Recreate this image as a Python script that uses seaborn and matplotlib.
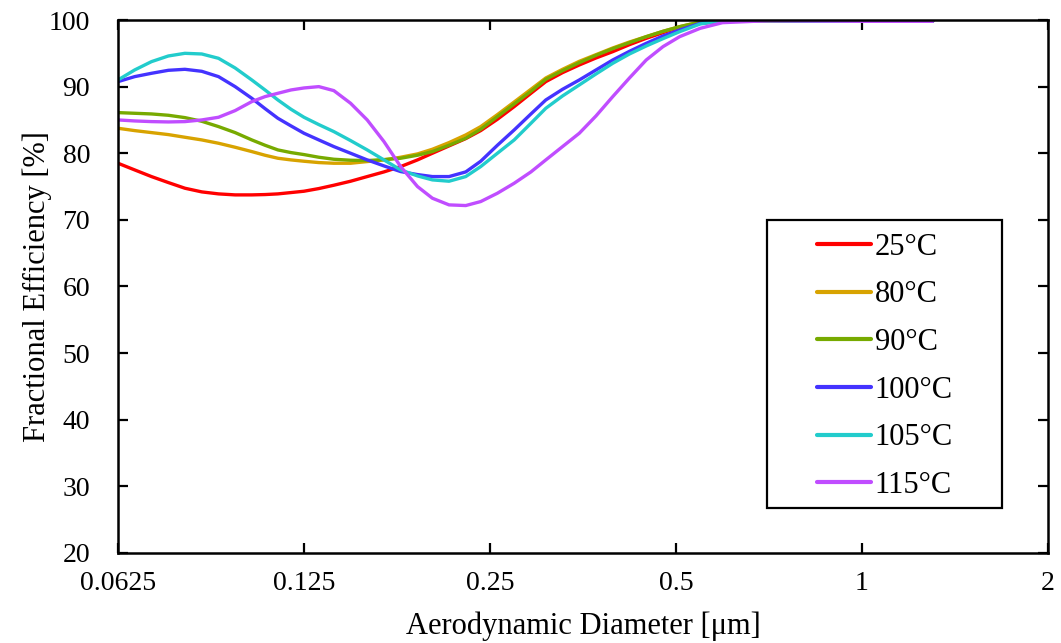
import numpy as np
import pandas as pd
import matplotlib
matplotlib.use("Agg")
import matplotlib.pyplot as plt
import seaborn as sns
from matplotlib.patches import Rectangle

# ---- data ----
diameter = [0.0625, 0.0665, 0.0708, 0.0754, 0.0802, 0.0854, 0.0909, 0.0967,
            0.1029, 0.1081, 0.1134, 0.1191, 0.125, 0.1321, 0.1397, 0.1487,
            0.1582, 0.1684, 0.1792, 0.1908, 0.2017, 0.2146, 0.2284, 0.2415,
            0.2570, 0.2736, 0.2912, 0.3078, 0.3276, 0.3487, 0.3711, 0.3950,
            0.4204, 0.4475, 0.4763, 0.5069, 0.5471, 0.5946, 0.7071, 1.0, 1.301]

eff_25 = [78.5, 77.5, 76.5, 75.6, 74.75, 74.2, 73.9, 73.75,
          73.75, 73.8, 73.9, 74.1, 74.3, 74.7, 75.2, 75.8,
          76.5, 77.2, 78.0, 79.0, 80.0, 81.1, 82.2, 83.4,
          85.1, 87.0, 89.0, 90.75, 92.1, 93.25, 94.3, 95.25,
          96.3, 97.25, 98.1, 98.9, 99.5, 99.8, 99.9, 99.8, 99.8]
eff_80 = [83.75, 83.4, 83.1, 82.8, 82.4, 82.0, 81.5, 80.9,
          80.25, 79.7, 79.25, 79.0, 78.8, 78.6, 78.5, 78.5,
          78.75, 79.0, 79.4, 79.9, 80.6, 81.6, 82.75, 84.0,
          85.8, 87.7, 89.6, 91.3, 92.6, 93.8, 94.8, 95.8,
          96.7, 97.5, 98.3, 99.0, 99.7, 99.9, 99.9, 99.8, 99.8]
eff_90 = [86.1, 86.0, 85.9, 85.7, 85.35, 84.8, 84.0, 83.1,
          82.0, 81.2, 80.5, 80.1, 79.8, 79.4, 79.1, 78.95,
          78.9, 79.05, 79.25, 79.7, 80.25, 81.2, 82.25, 83.6,
          85.5, 87.4, 89.3, 91.1, 92.4, 93.6, 94.7, 95.7,
          96.6, 97.5, 98.3, 99.0, 99.7, 99.9, 99.9, 99.8, 99.8]
eff_100 = [90.75, 91.5, 92.0, 92.45, 92.6, 92.3, 91.5, 90.0,
           88.25, 86.7, 85.25, 84.1, 83.0, 82.0, 81.0, 80.0,
           79.0, 78.1, 77.25, 76.8, 76.5, 76.5, 77.2, 78.8,
           81.2, 83.5, 85.9, 88.0, 89.6, 91.0, 92.5, 94.0,
           95.3, 96.5, 97.6, 98.5, 99.5, 99.9, 99.9, 99.8, 99.8]
eff_105 = [91.0, 92.5, 93.75, 94.6, 95.0, 94.9, 94.25, 92.8,
           91.0, 89.5, 88.0, 86.6, 85.4, 84.3, 83.25, 81.9,
           80.5, 79.0, 77.5, 76.6, 76.0, 75.8, 76.5, 78.0,
           80.0, 82.0, 84.5, 86.75, 88.6, 90.25, 91.9, 93.5,
           94.9, 96.1, 97.2, 98.25, 99.4, 99.9, 99.9, 99.8, 99.8]
eff_115 = [85.0, 84.85, 84.75, 84.7, 84.75, 85.0, 85.4, 86.4,
           87.75, 88.5, 89.0, 89.5, 89.8, 90.0, 89.4, 87.5,
           85.0, 81.75, 78.0, 75.0, 73.25, 72.25, 72.15, 72.75,
           74.0, 75.5, 77.2, 79.0, 81.0, 83.0, 85.6, 88.5,
           91.3, 94.0, 96.0, 97.5, 98.75, 99.6, 99.9, 99.8, 99.8]

series_labels = ["25°C", "80°C", "90°C", "100°C", "105°C", "115°C"]
series_values = [eff_25, eff_80, eff_90, eff_100, eff_105, eff_115]
series_colors = ["#FF0000", "#D8A300", "#77AA00", "#4433FF", "#22CCCC", "#C04DFF"]

x_ticks = [0.0625, 0.125, 0.25, 0.5, 1, 2]
x_tick_labels = ["0.0625", "0.125", "0.25", "0.5", "1", "2"]
y_ticks = [20, 30, 40, 50, 60, 70, 80, 90, 100]

df = pd.concat(
    [pd.DataFrame({"d": diameter, "eff": v, "T": lab})
     for lab, v in zip(series_labels, series_values)],
    ignore_index=True,
)

sns.set_theme(style="ticks")
plt.rcParams["font.family"] = ["Liberation Serif", "DejaVu Serif"]

fig = plt.figure(figsize=(10.61, 6.43), dpi=100)
ax = fig.add_axes([118 / 1061, 1 - 553 / 643, 930 / 1061, 533 / 643])

sns.lineplot(data=df, x="d", y="eff", hue="T", hue_order=series_labels,
             palette=dict(zip(series_labels, series_colors)),
             estimator=None, sort=True, linewidth=2.4, ax=ax, legend=True)

ax.set_xscale("log", base=2)
ax.set_xlim(0.0625, 2)
ax.set_ylim(20, 100)
ax.set_xticks(x_ticks)
ax.set_xticklabels(x_tick_labels)
ax.set_yticks(y_ticks)
ax.xaxis.set_minor_locator(matplotlib.ticker.NullLocator())

for s in ax.spines.values():
    s.set_color("black")
    s.set_linewidth(1.8)

ax.tick_params(axis="both", which="major", direction="in", length=7, width=1.6,
               top=True, right=True, labelsize=20, colors="black")
ax.tick_params(axis="x", pad=13)
ax.tick_params(axis="y", pad=20)

ax.set_xlabel("Aerodynamic Diameter [μm]", fontsize=22, color="black", labelpad=11)
ax.set_ylabel("Fractional Efficiency [%]", fontsize=22, color="black", labelpad=-2)

# legend box
ax.add_patch(Rectangle((0.698, 0.084), 0.253, 0.541, transform=ax.transAxes,
                       fill=False, edgecolor="black", linewidth=1.6, zorder=5))
handles, labels = ax.get_legend_handles_labels()
leg = ax.legend(handles, labels, loc="upper left", bbox_to_anchor=(0.7516, 0.601),
                frameon=False, fontsize=22, borderpad=0, borderaxespad=0,
                handlelength=1.76, handletextpad=0.13, labelspacing=0.61)
for h in leg.get_lines():
    h.set_linewidth(3)
for t in leg.get_texts():
    t.set_color("black")

fig.savefig("out.png", dpi=100, facecolor="white")
